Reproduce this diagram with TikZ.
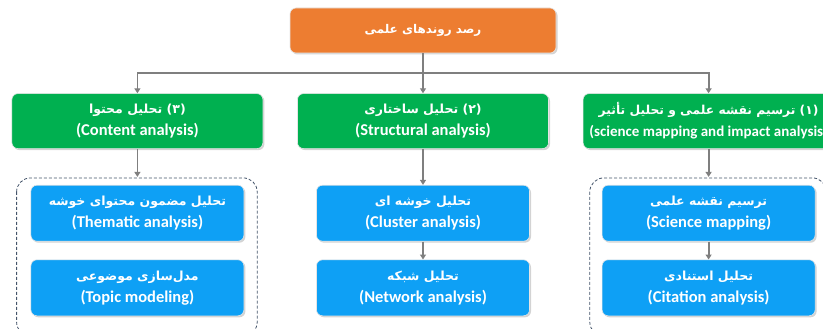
\documentclass[tikz,border=0pt]{standalone}
\usepackage{fontspec}
\setmainfont{Carlito}
\newfontfamily\persian[Script=Arabic]{DejaVu Sans}
\TeXXeTstate=1
\usetikzlibrary{positioning,calc,arrows.meta,shadows}
\definecolor{headorange}{HTML}{ED7D31}
\definecolor{stepgreen}{HTML}{00B050}
\definecolor{subblue}{HTML}{0EA0F5}
\definecolor{linkgray}{HTML}{7F7F7F}
\definecolor{groupline}{HTML}{44546A}
\newcommand{\fa}[2][12.5]{{\persian\fontsize{#1}{22}\selectfont\beginR #2\endR}}
\tikzstyle{box} = [draw=white!80!gray, line width=0.6pt, rectangle, rounded corners=6pt,
    text=white, align=center, font=\fontsize{16.5}{22}\selectfont\bfseries,
    drop shadow={shadow xshift=1.5pt, shadow yshift=-1.5pt, opacity=0.35}]
\tikzstyle{head} = [box, fill=headorange, minimum width=266pt, minimum height=45pt]
\tikzstyle{method} = [box, fill=stepgreen, minimum width=251pt, minimum height=55pt]
\tikzstyle{sub} = [box, fill=subblue, minimum width=213pt, minimum height=56pt]
\tikzstyle{group} = [draw=groupline, line width=0.8pt, dash pattern=on 3pt off 2pt, rounded corners=14pt]
\tikzstyle{link} = [draw=linkgray, line width=1.8pt]

\begin{document}
\begin{tikzpicture}[x=1pt, y=1pt, node distance=34pt, >={Triangle[length=5pt, width=6pt]}]
    \useasboundingbox (0,0) rectangle (823,-329);
    \node [head] (trend) at (423,-30.5) {\fa[12]{رصد روندهای علمی}};
    % main methods
    \node [method, below=40pt of trend] (struct) {\fa{(۲) تحلیل ساختاری}\\(Structural analysis)};
    \node [method, left=of struct] (content) {\fa{(۳) تحلیل محتوا}\\(Content analysis)};
    \node [method, right=of struct, inner xsep=1pt, font=\fontsize{15}{22}\selectfont\bfseries] (mapping)
        {\fa[12.3]{(۱) ترسیم نقشه علمی و تحلیل تأثیر}\\(science mapping and impact analysis)};
    % sub methods
    \node [sub, below=36pt of content] (thematic) {\fa{تحلیل مضمون محتوای خوشه}\\(Thematic analysis)};
    \node [sub, below=18pt of thematic] (topic) {\fa{مدل‌سازی موضوعی}\\(Topic modeling)};
    \node [sub, below=36pt of struct] (cluster) {\fa{تحلیل خوشه ای}\\(Cluster analysis)};
    \node [sub, below=18pt of cluster] (network) {\fa{تحلیل شبکه}\\(Network analysis)};
    \node [sub, below=36pt of mapping] (science) {\fa{ترسیم نقشه علمی}\\(Science mapping)};
    \node [sub, below=18pt of science] (citation) {\fa{تحلیل استنادی}\\(Citation analysis)};
    \draw [group] ($(thematic.north west)+(-14,7)$) rectangle ($(topic.south east)+(13,-20)$);
    \draw [group] ($(science.north west)+(-12,7)$) rectangle ($(citation.south east)+(11,-20)$);
    \coordinate (fork) at ($(trend.south)+(0,-20)$);
    \draw [link] (trend.south) -- (fork);
    \draw [link, ->] (fork) -| (content.north);
    \draw [link, ->] (fork) -- (struct.north);
    \draw [link, ->] (fork) -| (mapping.north);
    \draw [link, ->] (content.south) -- ++(0,-28);
    \draw [link, ->] (struct.south) -- (cluster.north);
    \draw [link, ->] (mapping.south) -- ++(0,-28);
    \draw [link, ->] (cluster) -- (network);
    \draw [link, ->] (science) -- (citation);
\end{tikzpicture}
\end{document}
